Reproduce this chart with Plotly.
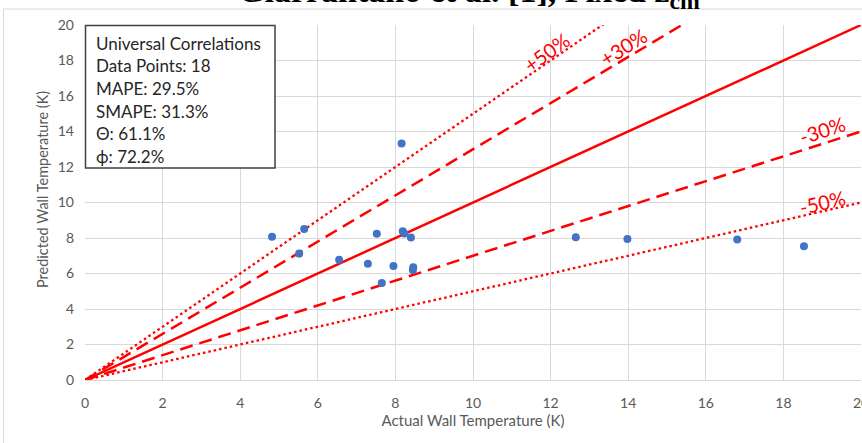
import plotly.graph_objects as go

# ---- data ----
actual = [4.82, 5.65, 5.52, 6.55, 7.29, 7.52, 7.65, 7.95, 8.16, 8.19, 8.23, 8.40, 8.46, 8.45, 12.65, 13.98, 16.81, 18.53]
predicted = [8.07, 8.51, 7.12, 6.78, 6.55, 8.24, 5.46, 6.42, 13.33, 8.38, 8.25, 8.03, 6.35, 6.20, 8.04, 7.94, 7.92, 7.53]

band_factors = [1.5, 1.3, 1.0, 0.7, 0.5]
band_styles = ["2.5px,3px", "13px,7px", "solid", "13px,7px", "2.5px,3px"]
band_widths = [2.3, 2.5, 2.5, 2.5, 2.3]
line_x = [0, 20]

band_labels = ["+50%", "+30%", "-30%", "-50%"]
band_label_x = [11.9, 13.87, 19.0, 19.02]
band_label_y = [18.48, 18.76, 14.08, 10.03]
band_label_angle = [-36, -32, -18, -13]

stats_lines = ["Universal Correlations", "Data Points: 18", "MAPE: 29.5%", "SMAPE: 31.3%", "\u0398: 61.1%", "\u03d5: 72.2%"]

title_text = "<b>Giarrantano et al. [1], Fixed z<sub>cm</sub></b>"
x_title = "Actual Wall Temperature (K)"
y_title = "Predicted Wall Temperature (K)"

W, H = 862, 443
L, R, T, B = 85, 1, 25, 63
pw, ph = W - L - R, H - T - B


def px(x):
    return (x - L) / pw


def py(y):
    return (H - B - y) / ph


fig = go.Figure()
for f, d, w in zip(band_factors, band_styles, band_widths):
    fig.add_trace(go.Scatter(x=line_x, y=[f * v for v in line_x], mode="lines",
                             line=dict(color="#FF0000", width=w, dash=d),
                             hoverinfo="skip", showlegend=False))

fig.add_trace(go.Scatter(x=actual, y=predicted, mode="markers",
                         marker=dict(color="#4472C4", size=8),
                         showlegend=False))

ann = []
for t, x, y, a in zip(band_labels, band_label_x, band_label_y, band_label_angle):
    ann.append(dict(x=x, y=y, xref="x", yref="y", text=t, showarrow=False,
                    textangle=a, font=dict(family="Lato", size=20, color="#FF0000")))

line_centers = [43.3, 65.9, 88.6, 111.2, 133.8, 156.5]
for t, yc in zip(stats_lines, line_centers):
    ann.append(dict(x=px(94), y=py(yc), xref="paper", yref="paper", text=t,
                    showarrow=False, xanchor="left", yanchor="middle",
                    font=dict(family="Lato", size=17, color="#262626")))

ann.append(dict(x=px(469), y=py(16), xref="paper", yref="paper", text=title_text,
                showarrow=False, xanchor="center", yanchor="bottom",
                font=dict(family="Liberation Serif", size=34, color="#000000")))

ann.append(dict(x=px(42), y=py(190), xref="paper", yref="paper", text=y_title,
                showarrow=False, xanchor="center", yanchor="middle", textangle=-90,
                font=dict(family="Lato", size=14.5, color="#595959")))

shapes = [
    dict(type="rect", xref="paper", yref="paper", x0=px(3.5), x1=px(875), y0=py(460), y1=py(9),
         line=dict(color="#D9D9D9", width=1), fillcolor="rgba(0,0,0,0)", layer="below"),
    dict(type="rect", xref="paper", yref="paper", x0=px(85.5), x1=px(275), y0=py(168), y1=py(25.5),
         line=dict(color="#404040", width=1.5), fillcolor="white", layer="above"),
]

fig.update_layout(
    width=W, height=H,
    margin=dict(l=L, r=R, t=T, b=B, autoexpand=False),
    paper_bgcolor="white", plot_bgcolor="white",
    annotations=ann, shapes=shapes,
    font=dict(family="Lato", color="#595959"),
)
fig.update_xaxes(range=[0, 20], tick0=0, dtick=2, showgrid=True, gridcolor="#D9D9D9", gridwidth=1,
                 zeroline=False, showline=True, linecolor="#D9D9D9", linewidth=1,
                 tickfont=dict(size=14, color="#595959"), ticks="", ticklabelstandoff=10,
                 ticklabeloverflow="allow", automargin=False,
                 title=dict(text=x_title, font=dict(size=15, color="#595959"), standoff=4))
fig.update_yaxes(range=[0, 20], tick0=0, dtick=2, showgrid=True, gridcolor="#D9D9D9", gridwidth=1,
                 zeroline=False, showline=False, automargin=False,
                 tickfont=dict(size=14, color="#595959"), ticks="", ticklabelstandoff=10)

fig.write_html("out.html")
